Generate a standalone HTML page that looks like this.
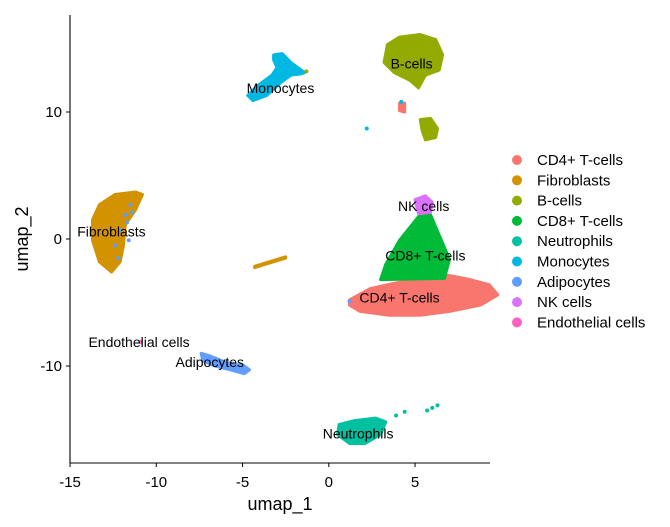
<!DOCTYPE html>
<html><head><meta charset="utf-8"><style>
body{margin:0;background:#fff}
svg{display:block;font-family:"Liberation Sans",Arial,sans-serif}
</style></head><body>
<svg id="chart" width="670" height="527"></svg>
<script>
const clusterNames=["CD4+ T-cells","Fibroblasts","B-cells","CD8+ T-cells","Neutrophils","Monocytes","Adipocytes","NK cells","Endothelial cells"];
const clusterColors=["#F8766D","#D39200","#93AA00","#00BA38","#00C19F","#00B9E3","#619CFF","#DB72FB","#FF61C3"];
const xTicks=[-15,-10,-5,0,5];
const yTicks=[-10,0,10];
// cluster regions (data coords) [clusterIndex, polygon]
const regions=[
 [0,[[1.2,-4.8],[2.4,-3.9],[4.1,-3.4],[5.3,-2.9],[6.7,-2.8],[8.2,-3.2],[9.3,-3.6],[9.8,-4.4],[8.8,-5.2],[7.0,-5.7],[5.3,-6.0],[3.5,-6.0],[1.8,-5.7],[1.2,-5.2]]],
 [3,[[5.4,2.1],[4.1,-0.1],[3.3,-2.0],[3.0,-3.2],[6.7,-3.1],[7.0,-1.6],[6.4,0.3],[5.9,1.9]]],
 [7,[[5.0,3.1],[5.6,3.4],[6.0,2.9],[5.9,2.1],[5.2,2.0]]],
 [2,[[3.4,15.3],[4.1,15.9],[5.3,16.1],[6.2,15.7],[6.6,14.5],[6.4,13.3],[5.6,12.9],[5.2,11.9],[4.7,12.5],[3.8,13.1],[3.2,13.9]]],
 [2,[[5.3,9.4],[5.9,9.5],[6.3,8.7],[6.2,8.0],[5.6,7.8],[5.4,8.6]]],
 [0,[[4.1,10.7],[4.4,10.7],[4.4,10.0],[4.1,10.1]]],
 [5,[[-3.2,14.5],[-2.7,14.6],[-2.2,13.9],[-1.8,13.5],[-1.4,13.1],[-1.6,13.0],[-2.2,12.9],[-2.8,12.3],[-3.6,11.3],[-4.4,10.9],[-4.7,11.3],[-4.2,12.0],[-3.3,12.9],[-3.0,13.5],[-3.2,14.1]]],
 [1,[[-13.3,2.7],[-12.4,3.5],[-11.2,3.7],[-10.8,3.5],[-11.2,2.3],[-11.8,1.1],[-11.9,-0.5],[-12.1,-1.8],[-12.6,-2.6],[-13.3,-1.8],[-13.7,-0.1],[-13.7,1.5]]],
 [1,[[-4.3,-2.15],[-2.5,-1.4],[-2.5,-1.5],[-4.3,-2.25]]],
 [6,[[-7.4,-9.0],[-6.9,-9.2],[-6.0,-9.7],[-4.9,-10.0],[-4.6,-10.3],[-4.9,-10.6],[-5.7,-10.3],[-6.6,-10.0],[-7.3,-9.6]]],
 [4,[[0.6,-14.6],[1.5,-14.3],[2.7,-14.1],[3.3,-14.4],[3.0,-15.4],[2.1,-16.1],[1.2,-16.1],[0.5,-15.4]]]
];
// individual cells [clusterIndex, x, y]
const cells=[
 [6,-11.8,1.9],[6,-11.5,2.7],[6,-12.1,0.7],[6,-11.6,-0.1],[6,-12.4,-0.5],[6,-11.4,2.1],[6,-12.2,-1.5],[6,-11.7,1.3],
 [4,3.9,-13.9],[4,4.4,-13.6],[4,5.7,-13.5],[4,6.0,-13.3],[4,6.3,-13.1],
 [5,2.2,8.7],[5,4.2,10.8],[2,-1.3,13.2],[8,-10.9,-8.1],[6,1.2,-4.9]
];
const labels=[["B-cells",4.8,13.8],["Monocytes",-2.8,11.9],["NK cells",5.5,2.6],["Fibroblasts",-12.6,0.6],["CD8+ T-cells",5.6,-1.3],["CD4+ T-cells",4.1,-4.6],["Endothelial cells",-11.0,-8.1],["Adipocytes",-6.9,-9.7],["Neutrophils",1.7,-15.3]];

const NS="http://www.w3.org/2000/svg";
const svg=document.getElementById('chart');
const xs=v=>328.8+v*17.25, ys=v=>239-v*12.7;
function mk(tag,a,parent){const e=document.createElementNS(NS,tag);for(const k in a)e.setAttribute(k,a[k]);(parent||svg).appendChild(e);return e;}

regions.forEach(([c,poly])=>{
 const p=mk('polygon',{points:poly.map(q=>xs(q[0])+','+ys(q[1])).join(' '),fill:clusterColors[c],stroke:clusterColors[c],'stroke-width':3,'stroke-linejoin':'round'});
 
 
});
cells.forEach(([c,x,y])=>{
 const e=mk('circle',{cx:xs(x),cy:ys(y),r:2,fill:clusterColors[c]});
 
 
});
labels.forEach(([t,x,y])=>{
 const e=mk('text',{x:xs(x),y:ys(y)+5,'text-anchor':'middle','font-size':14,fill:'#000'});e.textContent=t;
 
 
});
// axes
const ax=mk('line',{x1:70,y1:15,x2:70,y2:463,stroke:'#000','stroke-width':1.1});

const bx=mk('line',{x1:70,y1:463,x2:490,y2:463,stroke:'#000','stroke-width':1.1});

xTicks.forEach(v=>{
 mk('line',{x1:xs(v),y1:463,x2:xs(v),y2:467,stroke:'#000'});
 const t=mk('text',{x:xs(v),y:487,'text-anchor':'middle','font-size':15,fill:'#000'});t.textContent=v;
 
});
yTicks.forEach(v=>{
 mk('line',{x1:66,y1:ys(v),x2:70,y2:ys(v),stroke:'#000'});
 const t=mk('text',{x:62,y:ys(v)+5,'text-anchor':'end','font-size':15,fill:'#000'});t.textContent=v;
 
});
const xt=mk('text',{x:280,y:510,'text-anchor':'middle','font-size':18,fill:'#000'});xt.textContent='umap_1';

const yt=mk('text',{x:28,y:239,'text-anchor':'middle','font-size':18,fill:'#000',transform:'rotate(-90 28 239)'});yt.textContent='umap_2';

// legend
clusterNames.forEach((n,i)=>{
 const y=160+i*20.3;
 const g=mk('g',{});
 
 
 mk('circle',{cx:517,cy:y,r:5,fill:clusterColors[i]},g);
 const t=mk('text',{x:537,y:y+5,'font-size':15,fill:'#000'},g);t.textContent=n;
});
</script>
</body></html>
